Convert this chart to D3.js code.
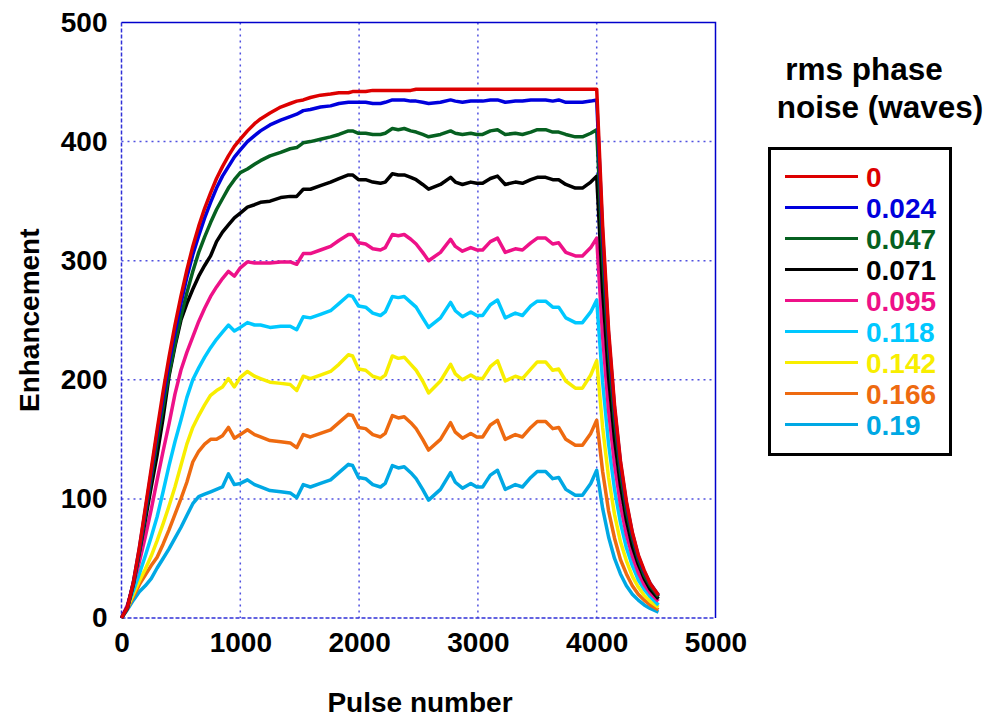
<!DOCTYPE html>
<html>
<head>
<meta charset="utf-8">
<script src="https://cdn.jsdelivr.net/npm/d3@7"></script>
<style>
  body { margin: 0; background: #fff; }
  svg { display: block; font-family: "Liberation Sans", Arial, sans-serif; font-weight: bold; }
</style>
</head>
<body>
<svg id="chart" width="988" height="719"></svg>
<script>
const pulses = [0, 50, 100, 150, 200, 250, 300, 350, 400, 450, 500, 550, 600, 650, 700, 750, 800, 850, 900, 950,
  1000, 1060, 1120, 1170, 1250, 1340, 1420, 1475, 1530, 1590, 1675, 1760, 1830, 1910, 1945, 1995, 2055, 2115, 2180, 2220,
  2280, 2330, 2380, 2435, 2480, 2535, 2585, 2685, 2770, 2810, 2870, 2940, 2990, 3040, 3105, 3165, 3230, 3315, 3375, 3445,
  3500, 3570, 3630, 3680, 3740, 3820, 3880, 3950, 4000, 4050, 4100, 4150, 4200, 4250, 4300, 4350, 4400, 4450, 4520];

const noise0 = [0, 9, 30, 59, 92, 125, 158, 190, 219, 246, 270, 292, 312, 329, 344, 357, 369, 379, 388, 396,
  402, 409, 415, 419, 424, 429, 432, 434, 435, 437, 439, 440, 441, 441, 442, 442, 442, 443, 443, 443,
  443, 443, 443, 443, 444, 444, 444, 444, 444, 444, 444, 444, 444, 444, 444, 444, 444, 444, 444, 444,
  444, 444, 444, 444, 444, 444, 444, 444, 444, 329, 242, 179, 132, 98, 72, 53, 40, 29, 19];

const noise024 = [0, 9, 30, 58, 90, 122, 155, 185, 214, 240, 264, 286, 305, 321, 336, 349, 361, 371, 379, 387,
  393, 400, 405, 409, 414, 418, 421, 423, 426, 427, 429, 430, 432, 433, 433, 433, 433, 432, 432, 433,
  435, 435, 435, 434, 434, 433, 432, 433, 435, 434, 433, 434, 434, 434, 435, 435, 433, 434, 434, 435,
  435, 435, 434, 435, 433, 433, 433, 434, 435, 322, 237, 176, 130, 96, 71, 52, 39, 29, 19];

const noise047 = [0, 8, 28, 55, 86, 117, 148, 177, 205, 230, 253, 273, 291, 307, 320, 332, 343, 352, 361, 368,
  374, 377, 381, 384, 388, 391, 394, 395, 399, 400, 402, 404, 406, 409, 409, 407, 407, 406, 406, 407,
  411, 410, 411, 409, 408, 406, 404, 406, 409, 407, 406, 407, 406, 406, 409, 410, 406, 407, 406, 408,
  410, 410, 408, 408, 406, 404, 404, 407, 410, 303, 223, 166, 122, 90, 67, 49, 36, 27, 18];

const noise071 = [0, 9, 29, 55, 82, 110, 137, 168, 203, 228, 250, 264, 276, 287, 296, 304, 316, 324, 330, 336,
  340, 345, 347, 349, 350, 353, 354, 354, 360, 360, 363, 366, 369, 372, 372, 368, 368, 366, 365, 366,
  373, 372, 372, 370, 368, 364, 360, 364, 370, 366, 364, 366, 365, 365, 369, 371, 364, 366, 365, 368,
  370, 370, 368, 368, 364, 361, 361, 366, 371, 275, 202, 150, 111, 82, 60, 45, 33, 24, 16];

const noise095 = [0, 11, 28, 47, 68, 91, 116, 140, 163, 188, 208, 223, 236, 249, 260, 270, 278, 285, 291, 287,
  294, 299, 298, 298, 298, 299, 299, 297, 306, 306, 309, 312, 317, 322, 322, 315, 314, 310, 309, 311,
  322, 321, 322, 318, 314, 307, 300, 307, 318, 312, 308, 311, 309, 309, 316, 319, 307, 310, 309, 315,
  319, 319, 314, 315, 307, 304, 304, 311, 319, 236, 174, 129, 95, 70, 52, 38, 28, 21, 14];

const noise118 = [0, 10, 23, 37, 52, 68, 85, 106, 128, 148, 166, 185, 200, 210, 219, 227, 234, 240, 246, 241,
  244, 248, 246, 246, 244, 245, 245, 242, 253, 252, 255, 258, 264, 271, 270, 262, 261, 256, 254, 257,
  270, 269, 270, 265, 261, 252, 244, 252, 265, 258, 253, 257, 254, 254, 263, 267, 252, 256, 254, 262,
  266, 266, 261, 261, 252, 248, 248, 257, 267, 198, 146, 108, 80, 59, 44, 32, 24, 18, 11];

const noise142 = [0, 9, 20, 31, 41, 52, 65, 79, 94, 110, 128, 146, 160, 170, 179, 187, 191, 194, 201, 194,
  202, 207, 203, 201, 198, 197, 196, 191, 203, 201, 204, 207, 213, 221, 220, 209, 208, 203, 201, 204,
  220, 218, 219, 213, 208, 199, 189, 199, 213, 205, 200, 204, 201, 201, 211, 216, 199, 203, 201, 209,
  215, 215, 208, 209, 199, 193, 193, 204, 216, 160, 118, 87, 64, 48, 35, 26, 19, 14, 9];

const noise166 = [0, 8, 18, 28, 36, 44, 51, 62, 74, 87, 100, 114, 131, 140, 146, 150, 150, 153, 160, 151,
  154, 158, 154, 152, 149, 148, 147, 143, 154, 152, 155, 158, 164, 171, 170, 160, 159, 154, 152, 155,
  170, 168, 169, 164, 159, 150, 141, 150, 164, 156, 151, 155, 152, 152, 162, 166, 150, 154, 152, 160,
  165, 165, 159, 160, 150, 145, 145, 155, 166, 123, 90, 67, 49, 37, 27, 20, 15, 11, 7];

const noise190 = [0, 7, 15, 22, 27, 33, 42, 50, 58, 67, 76, 86, 96, 102, 104, 106, 108, 110, 121, 112,
  113, 116, 112, 110, 107, 106, 105, 101, 112, 110, 113, 116, 122, 129, 128, 118, 117, 112, 110, 113,
  128, 126, 127, 122, 117, 108, 99, 108, 122, 114, 109, 113, 110, 110, 120, 124, 108, 112, 110, 118,
  123, 123, 117, 118, 108, 103, 103, 113, 124, 92, 68, 50, 37, 27, 20, 15, 11, 8, 5];

const seriesNames = ["0", "0.024", "0.047", "0.071", "0.095", "0.118", "0.142", "0.166", "0.19"];
const seriesColors = ["#dd0000", "#0000dd", "#066020", "#000000", "#ee1188", "#00c8ff", "#f8ee00", "#ee6a10", "#00a8e4"];
const seriesValues = [noise0, noise024, noise047, noise071, noise095, noise118, noise142, noise166, noise190];

const xTicks = [0, 1000, 2000, 3000, 4000, 5000];
const yTicks = [0, 100, 200, 300, 400, 500];

const svg = d3.select("#chart");

const x = d3.scaleLinear().domain([0, 5000]).range([121.5, 715.5]);
const y = d3.scaleLinear().domain([0, 500]).range([618, 22.5]);

// dotted grid
const grid = svg.append("g");
grid.selectAll(".gx")
  .data(xTicks.slice(1, -1))
  .join("line")
  .attr("x1", d => x(d)).attr("x2", d => x(d))
  .attr("y1", y(500)).attr("y2", y(0))
  .attr("stroke", "#5050e0").attr("stroke-width", 1.5)
  .attr("stroke-dasharray", "2,4");
grid.selectAll(".gy")
  .data(yTicks.slice(1, -1))
  .join("line")
  .attr("x1", x(0)).attr("x2", x(5000))
  .attr("y1", d => y(d)).attr("y2", d => y(d))
  .attr("stroke", "#5050e0").attr("stroke-width", 1.5)
  .attr("stroke-dasharray", "2,4");

// left and bottom edges look dotted, top and right solid
svg.append("line")
  .attr("x1", x(0)).attr("x2", x(0)).attr("y1", y(500)).attr("y2", y(0))
  .attr("stroke", "#3030d8").attr("stroke-width", 1.5).attr("stroke-dasharray", "4,2");
svg.append("line")
  .attr("x1", x(0)).attr("x2", x(5000)).attr("y1", y(0)).attr("y2", y(0))
  .attr("stroke", "#3030d8").attr("stroke-width", 1.5).attr("stroke-dasharray", "4,2");
svg.append("path")
  .attr("d", `M${x(0)},${y(500)}H${x(5000)}V${y(0)}`)
  .attr("fill", "none").attr("stroke", "#0000cc").attr("stroke-width", 1.5);

// lines
const line = d3.line()
  .x((d, i) => x(pulses[i]))
  .y(d => y(d));

svg.append("g")
  .selectAll("path")
  .data(seriesValues.map((v, i) => ({ v, c: seriesColors[i] })).reverse())
  .join("path")
  .attr("d", d => line(d.v))
  .attr("fill", "none")
  .attr("stroke", d => d.c)
  .attr("stroke-width", 3.5)
  .attr("stroke-linejoin", "round");

// axes
const xAxis = svg.append("g")
  .attr("transform", `translate(0,${y(0)})`)
  .call(d3.axisBottom(x).tickValues(xTicks).tickFormat(d3.format("d")).tickSize(0).tickPadding(14));
const yAxis = svg.append("g")
  .attr("transform", `translate(${x(0)},0)`)
  .call(d3.axisLeft(y).tickValues(yTicks).tickFormat(d3.format("d")).tickSize(0).tickPadding(14));
[xAxis, yAxis].forEach(a => {
  a.select(".domain").remove();
  a.selectAll("text")
    .attr("fill", "#000")
    .style("font-family", "'Liberation Sans', Arial, sans-serif")
    .style("font-weight", "bold")
    .style("font-size", "28px");
});

svg.append("text")
  .attr("transform", `translate(39,${(y(0) + y(500)) / 2}) rotate(-90)`)
  .attr("text-anchor", "middle")
  .style("font-size", "28px")
  .text("Enhancement");

svg.append("text")
  .attr("x", 420)
  .attr("y", 712)
  .attr("text-anchor", "middle")
  .style("font-size", "28px")
  .text("Pulse number");

// legend
svg.append("text").attr("x", 864).attr("y", 80).attr("text-anchor", "middle")
  .style("font-size", "31.5px").text("rms phase");
svg.append("text").attr("x", 880).attr("y", 118).attr("text-anchor", "middle")
  .style("font-size", "31.5px").text("noise (waves)");

svg.append("rect")
  .attr("x", 769.5).attr("y", 148.5).attr("width", 181).attr("height", 306)
  .attr("fill", "none").attr("stroke", "#000").attr("stroke-width", 3);

const legend = svg.append("g")
  .selectAll("g")
  .data(seriesNames)
  .join("g")
  .attr("transform", (d, i) => `translate(0,${176.5 + i * 31})`);
legend.append("line")
  .attr("x1", 785).attr("x2", 858)
  .attr("stroke", (d, i) => seriesColors[i]).attr("stroke-width", 3);
legend.append("text")
  .attr("x", 866).attr("y", 10)
  .attr("fill", (d, i) => seriesColors[i])
  .style("font-size", "28px")
  .text(d => d);
</script>
</body>
</html>
